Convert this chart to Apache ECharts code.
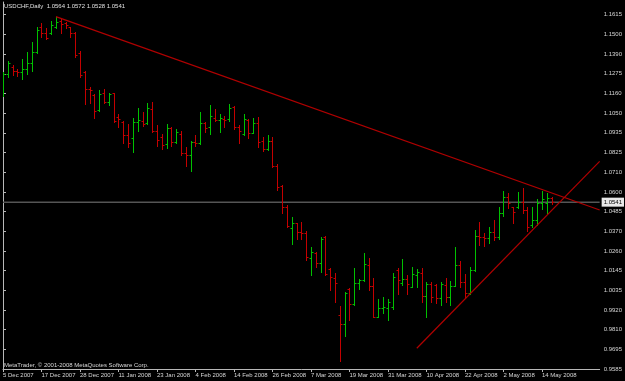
<!DOCTYPE html>
<html><head><meta charset="utf-8">
<script src="https://cdn.jsdelivr.net/npm/echarts@6/dist/echarts.min.js"></script>
<style>html,body{margin:0;padding:0;background:#000;}#c{width:625px;height:381px;}</style>
</head><body><div id="c"></div>
<script>
const symbolName = 'USDCHF,Daily';
const dates = ['2007.12.05','2007.12.06','2007.12.07','2007.12.10','2007.12.11','2007.12.12','2007.12.13','2007.12.14','2007.12.17','2007.12.18','2007.12.19','2007.12.20','2007.12.21','2007.12.24','2007.12.26','2007.12.27','2007.12.28',
'2008.01.02','2008.01.03','2008.01.04','2008.01.07','2008.01.08','2008.01.09','2008.01.10','2008.01.11','2008.01.14','2008.01.15','2008.01.16','2008.01.17','2008.01.18','2008.01.21','2008.01.22','2008.01.23','2008.01.24','2008.01.25','2008.01.28','2008.01.29','2008.01.30','2008.01.31',
'2008.02.01','2008.02.04','2008.02.05','2008.02.06','2008.02.07','2008.02.08','2008.02.11','2008.02.12','2008.02.13','2008.02.14','2008.02.15','2008.02.18','2008.02.19','2008.02.20','2008.02.21','2008.02.22','2008.02.25','2008.02.26','2008.02.27','2008.02.28','2008.02.29',
'2008.03.03','2008.03.04','2008.03.05','2008.03.06','2008.03.07','2008.03.10','2008.03.11','2008.03.12','2008.03.13','2008.03.14','2008.03.17','2008.03.18','2008.03.19','2008.03.20','2008.03.21','2008.03.24','2008.03.25','2008.03.26','2008.03.27','2008.03.28','2008.03.31',
'2008.04.01','2008.04.02','2008.04.03','2008.04.04','2008.04.07','2008.04.08','2008.04.09','2008.04.10','2008.04.11','2008.04.14','2008.04.15','2008.04.16','2008.04.17','2008.04.18','2008.04.21','2008.04.22','2008.04.23','2008.04.24','2008.04.25','2008.04.28','2008.04.29','2008.04.30',
'2008.05.01','2008.05.02','2008.05.05','2008.05.06','2008.05.07','2008.05.08','2008.05.09','2008.05.12','2008.05.13','2008.05.14','2008.05.15','2008.05.16'];
const futureDates = ['2008.05.19','2008.05.20','2008.05.21','2008.05.22','2008.05.23','2008.05.26','2008.05.27','2008.05.28','2008.05.29','2008.05.30'];
const dateTickLabels = ['5 Dec 2007','17 Dec 2007','28 Dec 2007','11 Jan 2008','23 Jan 2008','4 Feb 2008','14 Feb 2008','26 Feb 2008','7 Mar 2008','19 Mar 2008','31 Mar 2008','10 Apr 2008','22 Apr 2008','2 May 2008','14 May 2008'];
const priceTickLabels = ['0.9585','0.9695','0.9810','0.9920','1.0035','1.0145','1.0260','1.0370','1.0485','1.0600','1.0710','1.0825','1.0935','1.1050','1.1160','1.1275','1.1390','1.1500','1.1615'];

const openV = [1.1195,1.1275,1.1317,1.1293,1.1287,1.1302,1.1337,1.1403,1.1546,1.1509,
1.1512,1.1546,1.1581,1.1566,1.1543,1.1512,1.1394,1.1289,1.1189,1.1155,
1.1069,1.1165,1.1117,1.1165,1.1031,1.1002,1.0926,1.0909,1.1000,1.1008,
1.0993,1.1073,1.0949,1.0916,1.0873,1.0964,1.0887,1.0932,1.0825,1.0811,
1.0887,1.0878,1.0993,1.0970,1.1022,1.1014,1.1018,1.1016,1.1085,1.0970,
1.0932,1.1012,1.0939,1.0993,1.0891,1.0846,1.0891,1.0750,1.0634,1.0515,
1.0391,1.0420,1.0372,1.0366,1.0221,1.0251,1.0191,1.0343,1.0156,1.0105,
0.9894,0.9843,1.0042,0.9958,1.0076,1.0095,1.0181,1.0061,0.9885,0.9933,
0.9935,0.9942,1.0152,1.0076,1.0099,1.0057,1.0124,1.0137,1.0003,1.0072,
1.0066,0.9990,1.0066,0.9999,1.0061,1.0181,1.0085,1.0019,1.0152,1.0347,
1.0343,1.0334,1.0372,1.0343,1.0477,1.0569,1.0512,1.0515,1.0540,1.0496,
1.0410,1.0439,1.0535,1.0536,1.0564];
const highV = [1.1289,1.1350,1.1327,1.1304,1.1360,1.1403,1.1460,1.1546,1.1566,1.1539,
1.1581,1.1600,1.1590,1.1575,1.1546,1.1518,1.1409,1.1294,1.1199,1.1161,
1.1184,1.1188,1.1168,1.1168,1.1046,1.1008,1.0989,1.1022,1.1082,1.1059,
1.1111,1.1117,1.0983,1.0932,1.0987,1.0969,1.0959,1.0949,1.0859,1.0891,
1.0926,1.1056,1.0999,1.1098,1.1073,1.1045,1.1035,1.1103,1.1094,1.0983,
1.1045,1.1018,1.1022,1.1031,1.0913,1.0926,1.0916,1.0760,1.0642,1.0525,
1.0454,1.0423,1.0426,1.0378,1.0282,1.0255,1.0343,1.0347,1.0162,1.0133,
0.9946,1.0028,1.0047,1.0162,1.0099,1.0248,1.0219,1.0108,0.9986,0.9996,
0.9986,1.0133,1.0162,1.0215,1.0124,1.0168,1.0156,1.0164,1.0084,1.0085,
1.0072,1.0085,1.0105,1.0091,1.0282,1.0206,1.0129,1.0168,1.0382,1.0429,
1.0363,1.0400,1.0439,1.0512,1.0607,1.0592,1.0515,1.0601,1.0624,1.0512,
1.0512,1.0557,1.0607,1.0592,1.0572];
const lowV = [1.1152,1.1260,1.1270,1.1264,1.1247,1.1275,1.1294,1.1397,1.1486,1.1476,
1.1505,1.1537,1.1509,1.1537,1.1489,1.1371,1.1256,1.1103,1.1108,1.1022,
1.1065,1.1111,1.1098,1.1002,1.0973,1.0878,1.0855,1.0827,1.0951,1.0979,
1.0989,1.0945,1.0865,1.0846,1.0853,1.0865,1.0878,1.0811,1.0748,1.0721,
1.0863,1.0874,1.0945,1.0932,1.1008,1.0941,1.0973,1.1008,1.0960,1.0878,
1.0926,1.0907,1.0936,1.0859,1.0836,1.0840,1.0741,1.0608,1.0479,1.0399,
1.0301,1.0328,1.0328,1.0210,1.0124,1.0168,1.0143,1.0124,1.0038,0.9971,
0.9631,0.9774,0.9866,0.9952,1.0042,1.0092,1.0038,0.9881,0.9881,0.9908,
0.9866,0.9927,1.0013,1.0066,1.0013,1.0053,1.0057,0.9971,0.9885,0.9971,
0.9965,0.9952,0.9971,0.9952,1.0058,1.0057,0.9990,1.0015,1.0148,1.0296,
1.0290,1.0309,1.0324,1.0328,1.0462,1.0506,1.0423,1.0506,1.0481,1.0378,
1.0397,1.0410,1.0500,1.0481,1.0528];
const closeV = [1.1275,1.1336,1.1293,1.1287,1.1302,1.1337,1.1403,1.1528,1.1509,1.1480,
1.1556,1.1575,1.1562,1.1556,1.1512,1.1384,1.1270,1.1188,1.1184,1.1065,
1.1161,1.1117,1.1161,1.1008,1.1016,1.0926,1.0878,1.1002,1.1012,1.0989,
1.1079,1.0949,1.0897,1.0869,1.0968,1.0887,1.0945,1.0825,1.0811,1.0884,
1.0882,1.0993,1.0968,1.1035,1.1012,1.1022,1.1012,1.1079,1.0970,1.0949,
1.1016,1.0936,1.0993,1.0887,1.0846,1.0891,1.0750,1.0628,1.0513,1.0407,
1.0423,1.0372,1.0363,1.0225,1.0255,1.0191,1.0328,1.0129,1.0110,1.0080,
0.9843,1.0021,0.9958,1.0076,1.0095,1.0185,1.0061,0.9885,0.9933,0.9942,
0.9971,1.0114,1.0095,1.0099,1.0072,1.0128,1.0138,1.0003,1.0072,0.9999,
0.9990,1.0072,0.9999,1.0061,1.0181,1.0085,1.0019,1.0152,1.0347,1.0343,
1.0334,1.0372,1.0343,1.0477,1.0569,1.0538,1.0485,1.0540,1.0496,1.0400,
1.0439,1.0535,1.0559,1.0563,1.0541];

const resistanceLine = [[11, 1.1604], [124, 1.0496]];
const supportLine = [[86, 0.9704], [124, 1.0775]];

const yMin = 0.9585, yTop = 1.1615, yMax = 1.16879;
const yStep = (yTop - yMin) / (priceTickLabels.length - 1);
const n = dates.length;
const lastPrice = closeV[n - 1];
const allCats = dates.concat(futureDates);
const priceLine = [[0, lastPrice], [allCats.length - 1, lastPrice]];

const FONT = 'Liberation Sans';
const UP = '#00c000', DOWN = '#c40000', TXT = '#d6d6d6', AX = '#b8b8b8';

function renderBar(params, api) {
  const i = api.value(0);
  const o = api.value(1), h = api.value(2), l = api.value(3), c = api.value(4);
  const pH = api.coord([i, h]), pL = api.coord([i, l]);
  const pO = api.coord([i, o]), pC = api.coord([i, c]);
  const cx = Math.round(pH[0]) + 0.5;
  const col = c > o ? UP : DOWN;
  const yo = Math.round(pO[1]) + 0.5, yc = Math.round(pC[1]) + 0.5;
  return {
    type: 'group',
    children: [
      {type: 'line', shape: {x1: cx, y1: Math.round(pH[1]), x2: cx, y2: Math.round(pL[1]) + 1}, style: {stroke: col, lineWidth: 1}},
      {type: 'line', shape: {x1: cx - 2, y1: yo, x2: cx, y2: yo}, style: {stroke: col, lineWidth: 1}},
      {type: 'line', shape: {x1: cx, y1: yc, x2: cx + 2, y2: yc}, style: {stroke: col, lineWidth: 1}}
    ]
  };
}

const chart = echarts.init(document.getElementById('c'), null, {renderer: 'canvas'});
const titleText = symbolName + '  ' + [openV[n-1], highV[n-1], lowV[n-1], closeV[n-1]].map(v => v.toFixed(4)).join(' ');

chart.setOption({
  backgroundColor: '#000000',
  animation: false,
  grid: {left: 2.4, right: 23.7, top: 2, bottom: 12, containLabel: false},
  xAxis: [
    {
      type: 'category', data: allCats, boundaryGap: false, gridIndex: 0,
      axisLine: {show: true, lineStyle: {color: AX, width: 1}},
      axisTick: {show: true, length: 3, interval: (idx) => idx % 8 === 0 && idx / 8 < dateTickLabels.length, lineStyle: {color: AX}},
      axisLabel: {
        show: true, interval: (idx) => idx % 8 === 0 && idx / 8 < dateTickLabels.length,
        formatter: (v, idx) => (idx % 8 === 0 && idx / 8 < dateTickLabels.length) ? dateTickLabels[idx / 8] : '',
        color: TXT, fontSize: 6, fontFamily: FONT, align: 'left', verticalAlign: 'top', margin: 3
      },
      splitLine: {show: false}
    },
    {type: 'value', min: 0, max: allCats.length - 1, show: false, gridIndex: 0}
  ],
  yAxis: {
    type: 'value', position: 'right', min: yMin, max: yMax, interval: yStep,
    axisLine: {show: true, lineStyle: {color: AX, width: 1}},
    axisTick: {show: true, length: 3, lineStyle: {color: AX}},
    axisLabel: {
      show: true, showMaxLabel: false, color: TXT, fontSize: 6, fontFamily: FONT, margin: 4,
      formatter: (v) => {
        const k = Math.round((v - yMin) / yStep);
        if (k >= 0 && k < priceTickLabels.length && Math.abs(v - (yMin + k * yStep)) < 1e-6) return priceTickLabels[k];
        return '';
      }
    },
    splitLine: {show: false}
  },
  series: [
    {
      type: 'line', xAxisIndex: 1, yAxisIndex: 0, data: priceLine, symbol: 'none', silent: true,
      lineStyle: {color: '#555555', width: 1.5}, z: 1,
      endLabel: {show: true, formatter: lastPrice.toFixed(4), backgroundColor: '#e8e8e8', color: '#000000', fontSize: 6, fontFamily: FONT, padding: [2, 2, 1, 2], distance: 2}
    },
    {
      type: 'custom', xAxisIndex: 0, yAxisIndex: 0, renderItem: renderBar, silent: true,
      encode: {x: 0, y: [1, 2, 3, 4]},
      data: dates.map((d, i) => [i, openV[i], highV[i], lowV[i], closeV[i]]),
      clip: true, z: 2
    },
    {
      type: 'line', xAxisIndex: 1, yAxisIndex: 0, data: resistanceLine, symbol: 'none', silent: true,
      lineStyle: {color: '#b00000', width: 1.2}, z: 5
    },
    {
      type: 'line', xAxisIndex: 1, yAxisIndex: 0, data: supportLine, symbol: 'none', silent: true,
      lineStyle: {color: '#b00000', width: 1.2}, z: 5
    }
  ],
  graphic: [
    {type: 'text', left: 4, top: 3, style: {text: titleText, fill: '#e0e0e0', fontSize: 6, fontFamily: FONT}},
    {type: 'text', left: 4, top: 362, style: {text: 'MetaTrader, © 2001-2008 MetaQuotes Software Corp.', fill: '#d8d8d8', fontSize: 6, fontFamily: FONT}}
  ]
});
</script>
</body></html>
